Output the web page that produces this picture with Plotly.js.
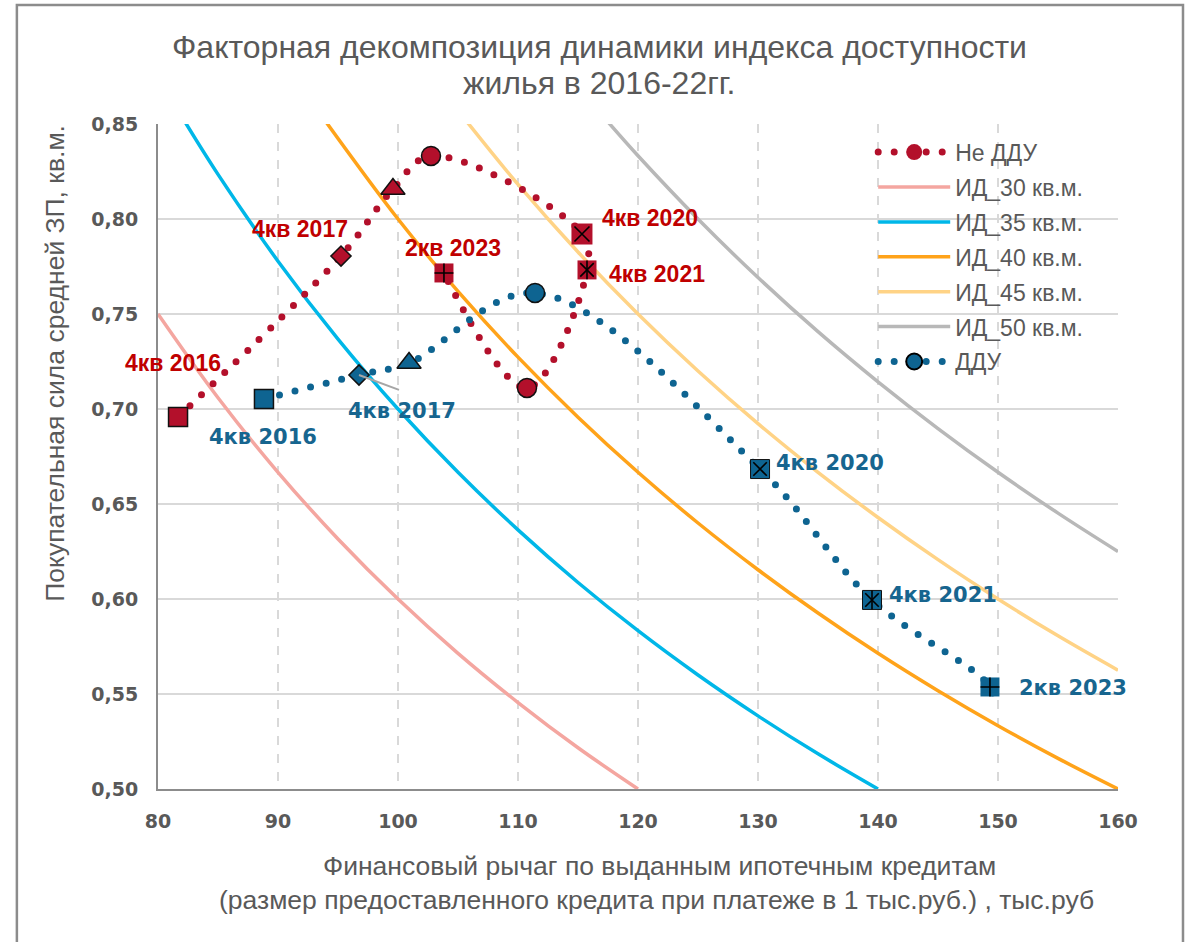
<!DOCTYPE html>
<html>
<head>
<meta charset="utf-8">
<script src="https://cdn.plot.ly/plotly-3.0.1.min.js"></script>
<style>
html,body{margin:0;padding:0;background:#ffffff;}
#chart{width:1196px;height:942px;}
</style>
</head>
<body>
<div id="chart"></div>
<script>
// ---------- DATA ----------
const periods = ['4кв 2016','4кв 2017','4кв 2018','4кв 2019','4кв 2020','4кв 2021','4кв 2022','2кв 2023'];

// "Не ДДУ" series (financial leverage, purchasing power)
const nonDduX = [81.67, 95.25, 99.58, 102.75, 115.33, 115.75, 110.75, 103.83];
const nonDduY = [0.6958, 0.7805, 0.8158, 0.8332, 0.7921, 0.7732, 0.7111, 0.7716];

// "ДДУ" series
const dduPeriods = ['4кв 2016','4кв 2017','4кв 2018','4кв 2019','4кв 2020','4кв 2021','2кв 2023',''];
const dduX = [88.83, 96.75, 100.92, 111.42, 130.17, 139.50, 149.33, 149.58];
const dduY = [0.7053, 0.7179, 0.7242, 0.7611, 0.6684, 0.5995, 0.5537, 0.5437];

// Affordability iso-lines (ИД, кв.м.)
const id30X = [80, 85, 90, 95, 100, 105, 110, 115, 120];
const id30Y = [0.75, 0.7059, 0.6667, 0.6316, 0.6, 0.5714, 0.5455, 0.5217, 0.5];
const id35X = [82, 85, 90, 95, 100, 105, 110, 115, 120, 125, 130, 135, 140];
const id35Y = [0.8537, 0.8235, 0.7778, 0.7368, 0.7, 0.6667, 0.6364, 0.6087, 0.5833, 0.56, 0.5385, 0.5185, 0.5];
const id40X = [94, 100, 105, 110, 115, 120, 125, 130, 135, 140, 145, 150, 155, 160];
const id40Y = [0.8511, 0.8, 0.7619, 0.7273, 0.6957, 0.6667, 0.64, 0.6154, 0.5926, 0.5714, 0.5517, 0.5333, 0.5161, 0.5];
const id45X = [105, 110, 115, 120, 125, 130, 135, 140, 145, 150, 155, 160];
const id45Y = [0.8571, 0.8182, 0.7826, 0.75, 0.72, 0.6923, 0.6667, 0.6429, 0.6207, 0.6, 0.5806, 0.5625];
const id50X = [117, 120, 125, 130, 135, 140, 145, 150, 155, 160];
const id50Y = [0.8547, 0.8333, 0.8, 0.7692, 0.7407, 0.7143, 0.6897, 0.6667, 0.6452, 0.625];

const xTicks = [80, 90, 100, 110, 120, 130, 140, 150, 160];
const yTicks = [0.50, 0.55, 0.60, 0.65, 0.70, 0.75, 0.80, 0.85];

const titleLines = ['Факторная декомпозиция динамики индекса доступности', 'жилья в 2016-22гг.'];
const xTitleLines = ['Финансовый рычаг по выданным ипотечным кредитам',
  '(размер предоставленного кредита при платеже в 1 тыс.руб.) , тыс.руб'];
const yTitle = 'Покупательная сила средней ЗП, кв.м.';

// ---------- STYLE ----------
const RED = '#B3102B';
const BLUE = '#0E6491';
const RED_TXT = '#C00000';
const BLUE_TXT = '#17658F';
const GRAY_TXT = '#595959';
const DOT = '0px,16px';

const redBase  = ['square','diamond','triangle-up','circle','square','square','circle','square'];
const redSize  = [19, 15.5, 21, 19, 21, 19, 19, 19];
const redLine  = [1.5, 1.5, 1.5, 1.5, 0, 0, 1.5, 0];
const redInner = [[],[],[],[],['x-thin-open'],['x-thin-open','line-ns-open'],[],['cross-thin-open']];
const redInnerSize = [0,0,0,0,15,13.5,0,13.5];

const bluBase  = ['square','diamond','triangle-up','circle','square','square','square','circle'];
const bluSize  = [19, 15.5, 21, 19, 19, 19, 19, 0];
const bluLine  = [1.5, 1.5, 1.5, 1.5, 1, 1, 0, 0];
const bluInner = [[],[],[],[],['x-thin-open'],['x-thin-open','line-ns-open'],['cross-thin-open'],[]];
const bluInnerSize = [0,0,0,0,13.5,13.5,13.5,0];

function innerTraces(xs, ys, inner, sizes){
  const out = [];
  const byType = {};
  inner.forEach((arr,i)=>arr.forEach(s=>{
    (byType[s] = byType[s] || []).push(i);
  }));
  Object.keys(byType).forEach(s=>{
    const idx = byType[s];
    out.push({
      type:'scatter', mode:'markers', showlegend:false, hoverinfo:'skip',
      x: idx.map(i=>xs[i]), y: idx.map(i=>ys[i]),
      marker:{symbol:s, size: idx.map(i=>sizes[i]), opacity:1, color:'#000', line:{color:'#111', width:1.6}}
    });
  });
  return out;
}

function isoTrace(name, xs, ys, color, rank){
  return {type:'scatter', mode:'lines', name:name, x:xs, y:ys,
    line:{color:color, width:3.5, shape:'spline', smoothing:1},
    legendrank: rank, legendgroup:name, hoverinfo:'skip'};
}

const traces = [
  isoTrace('ИД_30 кв.м.', id30X, id30Y, '#F4A6A0', 2),
  isoTrace('ИД_35 кв.м.', id35X, id35Y, '#00B7E8', 3),
  isoTrace('ИД_40 кв.м.', id40X, id40Y, '#FFA31A', 4),
  isoTrace('ИД_45 кв.м.', id45X, id45Y, '#FFD386', 5),
  isoTrace('ИД_50 кв.м.', id50X, id50Y, '#B8B8B8', 6),
  {type:'scatter', mode:'lines+markers', name:'Не ДДУ', showlegend:false, x:nonDduX, y:nonDduY,
   text: periods, hoverinfo:'skip',
   line:{color:RED, width:7, dash:DOT, shape:'spline', smoothing:1},
   marker:{symbol:redBase, size:redSize, opacity:1, color:RED, line:{color:'#111', width:redLine}}},
  ...innerTraces(nonDduX, nonDduY, redInner, redInnerSize),
  {type:'scatter', mode:'lines+markers', name:'ДДУ', showlegend:false, x:dduX, y:dduY,
   text: dduPeriods, hoverinfo:'skip',
   line:{color:BLUE, width:7, dash:DOT, shape:'spline', smoothing:1},
   marker:{symbol:bluBase, size:bluSize, opacity:1, color:BLUE, line:{color:'#111', width:bluLine}}},
  ...innerTraces(dduX, dduY, bluInner, bluInnerSize),
  // legend entries
  {type:'scatter', mode:'lines+markers', name:'Не ДДУ', x:[null], y:[null], legendrank:1, legendgroup:'nd',
   line:{color:RED, width:7, dash:DOT}, marker:{symbol:'circle', size:19, opacity:1, color:RED, line:{width:0}}},
  {type:'scatter', mode:'lines+markers', name:'ДДУ', x:[null], y:[null], legendrank:7, legendgroup:'d',
   line:{color:BLUE, width:7, dash:DOT}, marker:{symbol:'circle', size:18, opacity:1, color:BLUE, line:{color:'#000', width:2}}}
];

// ---------- LABELS ----------
const redLabelShift = {0:[-5,54], 1:[-41,27], 4:[68,16], 5:[70,-4], 7:[9,25]};
const bluLabelShift = {0:[-1,-38], 1:[43,-36], 4:[70,6], 5:[71,5], 6:[83,-1]};
const annotations = [];
Object.keys(redLabelShift).forEach(k=>{
  const i = +k;
  annotations.push({x:nonDduX[i], y:nonDduY[i], xref:'x', yref:'y', text:periods[i], showarrow:false,
    xshift:redLabelShift[k][0], yshift:redLabelShift[k][1], xanchor:'center', yanchor:'middle',
    font:{family:'Liberation Sans, Arial, sans-serif', size:23, color:RED_TXT, weight:'bold'}});
});
Object.keys(bluLabelShift).forEach(k=>{
  const i = +k;
  annotations.push({x:dduX[i], y:dduY[i], xref:'x', yref:'y', text:dduPeriods[i], showarrow:false,
    xshift:bluLabelShift[k][0], yshift:bluLabelShift[k][1], xanchor:'center', yanchor:'middle',
    font:{family:'DejaVu Sans, Verdana, sans-serif', size:21, color:BLUE_TXT, weight:'bold'}});
});
// leader line for ДДУ 4кв 2017
annotations.push({x:dduX[1], y:dduY[1], xref:'x', yref:'y', text:' ', showarrow:true, arrowhead:0,
  arrowwidth:2, arrowcolor:'#A6A6A6', ax:43, ay:16, axref:'pixel', ayref:'pixel', standoff:0, startstandoff:0});
// chart title (two lines)
annotations.push({xref:'paper', yref:'paper', x:0.4604, y:1.1158, xanchor:'center', yanchor:'middle', showarrow:false,
  text:titleLines[0], font:{family:'Liberation Sans, Arial, sans-serif', size:32, color:GRAY_TXT}});
annotations.push({xref:'paper', yref:'paper', x:0.4604, y:1.0617, xanchor:'center', yanchor:'middle', showarrow:false,
  text:titleLines[1], font:{family:'Liberation Sans, Arial, sans-serif', size:32, color:GRAY_TXT}});
// axis titles
annotations.push({xref:'paper', yref:'paper', x:-0.107, y:0.640, xanchor:'center', yanchor:'middle', textangle:-90, showarrow:false,
  text:yTitle, font:{family:'Liberation Sans, Arial, sans-serif', size:26.5, color:GRAY_TXT}});
annotations.push({xref:'paper', yref:'paper', x:0.5219, y:-0.1158, xanchor:'center', yanchor:'middle', showarrow:false,
  text:xTitleLines[0], font:{family:'Liberation Sans, Arial, sans-serif', size:26.5, color:GRAY_TXT}});
annotations.push({xref:'paper', yref:'paper', x:0.5188, y:-0.1669, xanchor:'center', yanchor:'middle', showarrow:false,
  text:xTitleLines[1], font:{family:'Liberation Sans, Arial, sans-serif', size:26.5, color:GRAY_TXT}});

const tickFont = {family:'DejaVu Sans, Verdana, sans-serif', size:19, color:GRAY_TXT, weight:'bold'};

const layout = {
  width:1196, height:942,
  margin:{l:158, r:78, t:124, b:153},
  paper_bgcolor:'#ffffff', plot_bgcolor:'#ffffff',
  separators:', ',
  xaxis:{range:[80,160], tickvals:xTicks, ticktext:xTicks.map(String), tickfont:tickFont,
    showgrid:true, gridcolor:'#D9D9D9', gridwidth:1.5, griddash:'dash', zeroline:false,
    showline:true, linecolor:'#8C8C8C', linewidth:2, ticks:'', ticklabelstandoff:14, fixedrange:true},
  yaxis:{range:[0.5,0.85], tickvals:yTicks, tickformat:'.2f', tickfont:tickFont,
    showgrid:true, gridcolor:'#D9D9D9', gridwidth:2, zeroline:false,
    showline:true, linecolor:'#8C8C8C', linewidth:2, ticks:'', ticklabelstandoff:14, fixedrange:true},
  legend:{x:0.745, y:0.99, xanchor:'left', yanchor:'top', bgcolor:'rgba(0,0,0,0)',
    font:{family:'Liberation Sans, Arial, sans-serif', size:23, color:GRAY_TXT},
    itemwidth:72, tracegroupgap:2, traceorder:'grouped'},
  annotations:annotations,
  shapes:[{type:'rect', xref:'paper', yref:'paper', x0:-0.147, x1:1.0677, y0:-0.35, y1:1.179,
    line:{color:'#8C8C8C', width:2.5}, fillcolor:'rgba(0,0,0,0)', layer:'above'}],
  showlegend:true
};

Plotly.newPlot('chart', traces, layout, {displayModeBar:false, staticPlot:true}).then(gd=>{
  gd.querySelectorAll('path').forEach(p=>{
    const da = p.style.strokeDasharray || p.getAttribute('stroke-dasharray') || '';
    if (da.replace(/\s/g,'').startsWith('0px,16px')) {
      p.style.strokeLinecap = 'round';
    }
  });
});
</script>
</body>
</html>
